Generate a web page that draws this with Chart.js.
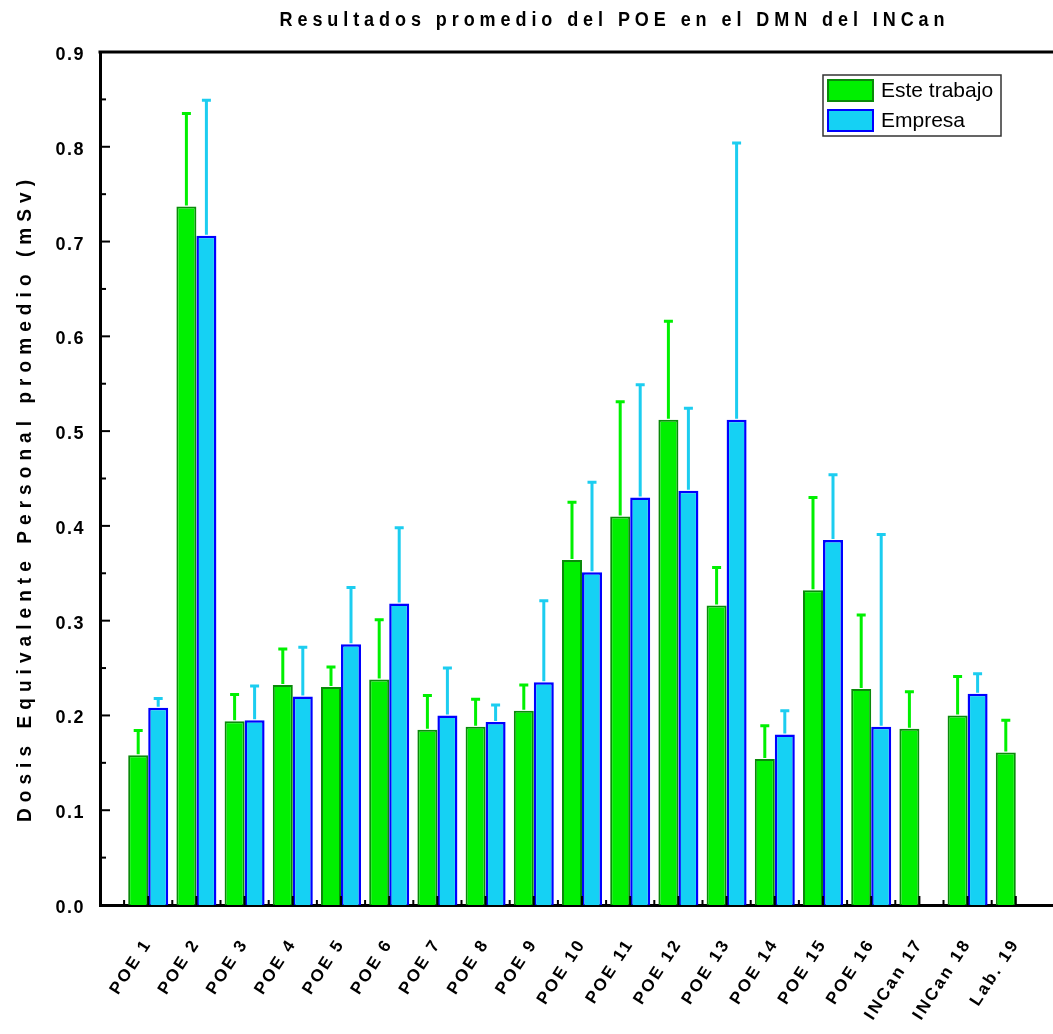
<!DOCTYPE html>
<html>
<head>
<meta charset="utf-8">
<script src="https://cdn.jsdelivr.net/npm/chart.js@4.4.0/dist/chart.umd.min.js"></script>
<style>
  html, body { margin: 0; padding: 0; overflow: hidden; background: #fff; }
  canvas { display: block; }
</style>
</head>
<body>
<canvas id="grafica" width="1080" height="1034"></canvas>
<script>
// Valores promedio de dosis (mSv)
const categorias = ["POE 1", "POE 2", "POE 3", "POE 4", "POE 5", "POE 6", "POE 7", "POE 8", "POE 9", "POE 10",
  "POE 11", "POE 12", "POE 13", "POE 14", "POE 15", "POE 16", "INCan 17", "INCan 18", "Lab. 19"];
const esteTrabajo = [0.158, 0.737, 0.194, 0.232, 0.230, 0.238, 0.185, 0.188, 0.205, 0.364,
  0.410, 0.512, 0.316, 0.154, 0.332, 0.228, 0.186, 0.200, 0.161];
const esteTrabajoError = [0.026, 0.098, 0.028, 0.038, 0.021, 0.063, 0.036, 0.029, 0.027, 0.061,
  0.121, 0.104, 0.040, 0.035, 0.098, 0.078, 0.039, 0.041, 0.034];
const empresa = [0.208, 0.706, 0.195, 0.220, 0.275, 0.318, 0.200, 0.193, 0.235, 0.351,
  0.430, 0.437, 0.512, 0.180, 0.385, 0.188, null, 0.223, null];
const empresaError = [0.010, 0.143, 0.036, 0.052, 0.060, 0.080, 0.050, 0.018, 0.086, 0.095,
  0.119, 0.087, 0.292, 0.025, 0.069, 0.203, null, 0.021, null];
const yTicks = [0.0, 0.1, 0.2, 0.3, 0.4, 0.5, 0.6, 0.7, 0.8, 0.9];

const VERDE = "#00f000";
const VERDE_BORDE = "#0a8a0a";
const CIAN = "#15d1f4";
const AZUL = "#0000ff";
const CIAN_ERROR = "#1ccdf0";
const FUENTE = "'Liberation Sans', Arial, sans-serif";

// el eje x va de 0 a 20: una categoría vacía a cada lado
const conMargen = a => [null, ...a, null];

const ctx = document.getElementById("grafica").getContext("2d");

// texto con espaciado ajustado a un ancho dado (escala horizontal opcional)
function textoEspaciado(c, texto, x, y, ancho, escala) {
  c.save();
  c.translate(x, y);
  c.scale(escala, 1);
  const anchoReal = ancho / escala;
  c.letterSpacing = "0px";
  const w = c.measureText(texto).width;
  c.letterSpacing = ((anchoReal - w) / (texto.length - 1)) + "px";
  c.textAlign = "left";
  c.fillText(texto, -anchoReal / 2, 0);
  c.restore();
}

const pluginDibujo = {
  id: "dibujo",
  beforeDraw(chart) {
    // espaciado de letras de las etiquetas de los ejes
    [["x", "2.5px"], ["y", "1.5px"]].forEach(([id, esp]) => {
      const s = chart.scales[id];
      if (s._espaciado) return;
      const orig = s.drawLabels.bind(s);
      s.drawLabels = function (area) {
        chart.ctx.save();
        chart.ctx.letterSpacing = esp;
        orig(area);
        chart.ctx.restore();
      };
      s._espaciado = true;
    });
  },
  afterDatasetsDraw(chart) {
    const c = chart.ctx;
    const ys = chart.scales.y;
    const series = [[esteTrabajo, esteTrabajoError, VERDE], [empresa, empresaError, CIAN_ERROR]];
    series.forEach(([vals, errs, color], d) => {
      const meta = chart.getDatasetMeta(d);
      vals.forEach((v, i) => {
        if (v === null) return;
        const bar = meta.data[i + 1];
        const y0 = ys.getPixelForValue(v);
        const y1 = ys.getPixelForValue(v + errs[i]);
        c.save();
        c.strokeStyle = color;
        c.lineWidth = 3;
        c.beginPath();
        c.moveTo(bar.x, y0 - 1);
        c.lineTo(bar.x, y1);
        c.moveTo(bar.x - 4.5, y1);
        c.lineTo(bar.x + 4.5, y1);
        c.stroke();
        c.restore();
      });
    });
  },
  afterDraw(chart) {
    const c = chart.ctx;
    const a = chart.chartArea;
    const xs = chart.scales.x;
    const ys = chart.scales.y;
    c.save();
    c.strokeStyle = "#000";
    // borde superior
    c.lineWidth = 3;
    c.beginPath();
    c.moveTo(a.left - 1.5, a.top);
    c.lineTo(a.right, a.top);
    c.stroke();
    // marcas del eje y hacia dentro
    c.lineWidth = 2;
    for (let k = 1; k < 18; k++) {
      const y = ys.getPixelForValue(k * 0.05);
      c.beginPath();
      c.moveTo(a.left, y);
      c.lineTo(a.left + (k % 2 === 0 ? 10 : 6), y);
      c.stroke();
    }
    // marcas del eje x
    categorias.forEach((_, i) => {
      const xc = xs.getPixelForValue(i + 1);
      const xb = (xs.getPixelForValue(i) + xc) / 2;
      c.beginPath();
      c.moveTo(xc, a.bottom);
      c.lineTo(xc, a.bottom - 9);
      c.moveTo(xb, a.bottom);
      c.lineTo(xb, a.bottom - 5);
      c.stroke();
    });
    // títulos
    c.fillStyle = "#000";
    c.textBaseline = "middle";
    c.font = "bold 20px " + FUENTE;
    textoEspaciado(c, "Resultados promedio del POE en el DMN del INCan", a.left + 512, 20, 665, 0.9);
    c.save();
    c.translate(25, a.top + 449);
    c.rotate(-Math.PI / 2);
    c.font = "bold 20px " + FUENTE;
    textoEspaciado(c, "Dosis Equivalente Personal promedio (mSv)", 0, 0, 642, 0.95);
    c.restore();
    // leyenda dentro del área
    const lx = a.right - 241, ly = a.top + 23;
    c.letterSpacing = "0px";
    c.lineWidth = 1.5;
    c.strokeStyle = "#333";
    c.fillStyle = "#fff";
    c.fillRect(lx, ly, 178, 61);
    c.strokeRect(lx, ly, 178, 61);
    const items = [["Este trabajo", VERDE, VERDE_BORDE], ["Empresa", CIAN, AZUL]];
    items.forEach(([txt, relleno, borde], j) => {
      const y = ly + 5 + j * 30;
      c.fillStyle = relleno;
      c.fillRect(lx + 5, y, 45, 21);
      c.strokeStyle = borde;
      c.lineWidth = 2;
      c.strokeRect(lx + 5, y, 45, 21);
      c.fillStyle = "#000";
      c.font = "21px " + FUENTE;
      c.textAlign = "left";
      c.textBaseline = "middle";
      c.fillText(txt, lx + 58, y + 11);
    });
    c.restore();
  }
};

new Chart(ctx, {
  type: "bar",
  data: {
    labels: ["", ...categorias, ""],
    datasets: [{
      label: "Este trabajo",
      data: conMargen(esteTrabajo),
      backgroundColor: VERDE,
      borderColor: VERDE_BORDE,
      borderWidth: 2,
      categoryPercentage: 0.83,
      barPercentage: 1.0
    }, {
      label: "Empresa",
      data: conMargen(empresa),
      backgroundColor: CIAN,
      borderColor: AZUL,
      borderWidth: 2.5,
      categoryPercentage: 0.83,
      barPercentage: 1.0
    }]
  },
  options: {
    responsive: false,
    animation: false,
    layout: { padding: { top: 52, right: 16, left: 0, bottom: 0 } },
    plugins: {
      legend: { display: false },
      title: { display: false },
      tooltip: { enabled: false }
    },
    scales: {
      x: {
        offset: false,
        grid: { display: false, drawTicks: false },
        border: { display: true, color: "#000", width: 3 },
        ticks: {
          autoSkip: false,
          minRotation: 57,
          maxRotation: 57,
          padding: 30,
          color: "#000",
          font: { family: FUENTE, size: 17, weight: "bold" }
        },
        afterFit: s => {
          s.height = 129;
          s.paddingLeft = 0;
          s.paddingRight = 0;
        }
      },
      y: {
        min: 0,
        max: 0.9,
        afterBuildTicks: s => { s.ticks = yTicks.map(v => ({ value: v })); },
        grid: { display: false, drawTicks: false },
        border: { display: true, color: "#000", width: 3 },
        ticks: {
          padding: 15,
          labelOffset: 3,
          color: "#000",
          font: { family: FUENTE, size: 18, weight: "bold" },
          callback: v => Number(v).toFixed(1)
        },
        afterFit: s => { s.width = 100; }
      }
    }
  },
  plugins: [pluginDibujo]
});
</script>
</body>
</html>
